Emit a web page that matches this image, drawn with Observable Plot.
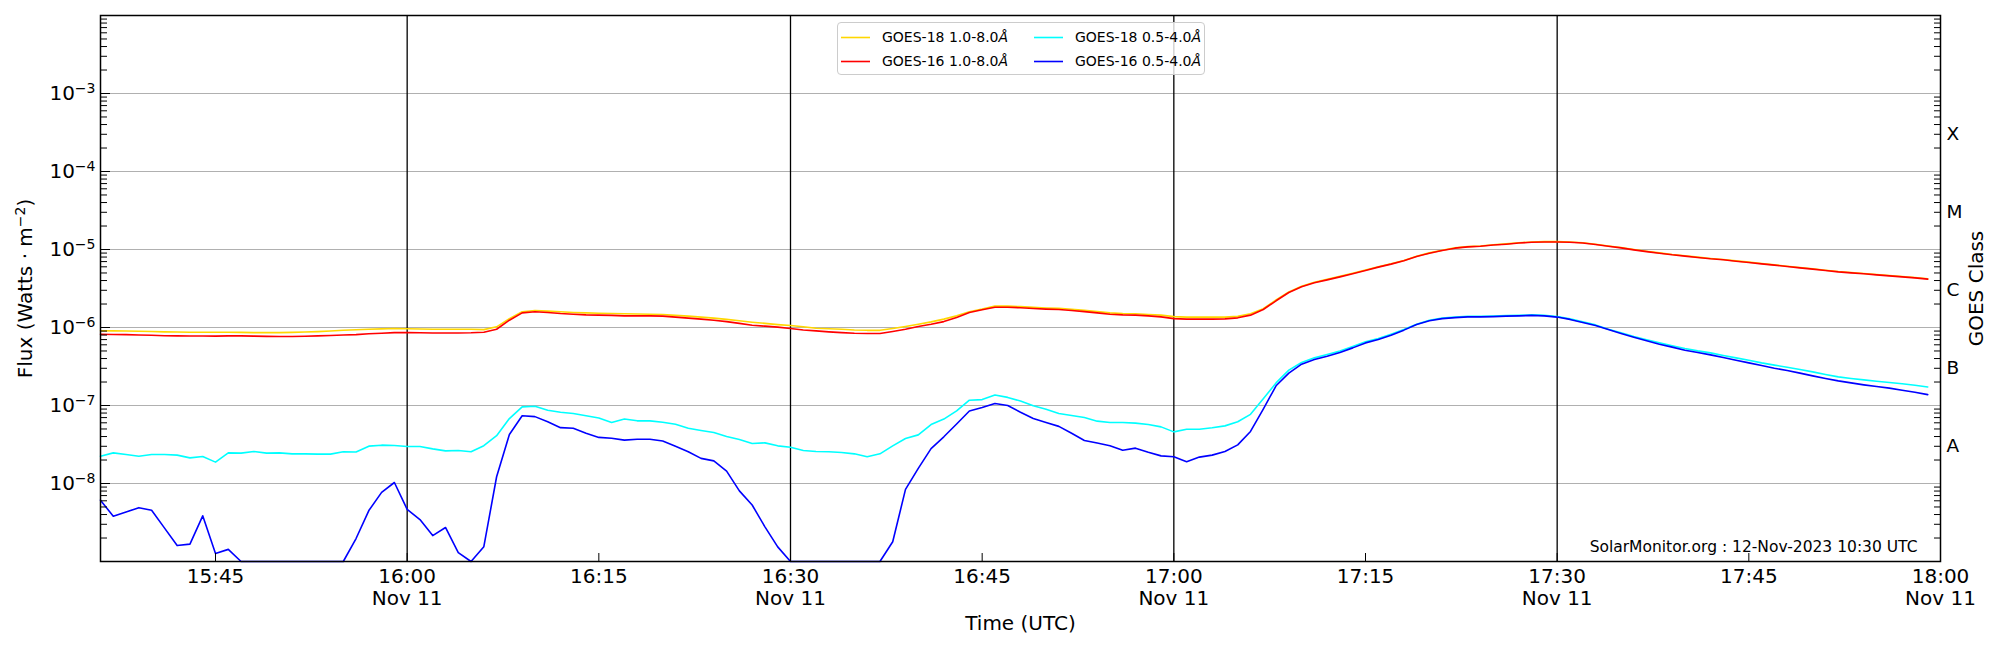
<!DOCTYPE html>
<html>
<head>
<meta charset="utf-8">
<script src="https://cdn.jsdelivr.net/npm/d3@7"></script>
<script src="https://cdn.jsdelivr.net/npm/@observablehq/plot@0.6"></script>
<style>
  body { margin: 0; background: #fff; font-family: "DejaVu Sans", sans-serif; }
  #wrap { position: relative; width: 2000px; height: 650px; }
  #legend { position: absolute; left: 837px; top: 22px; width: 368px; height: 53px; box-sizing: border-box;
            border: 1px solid #cccccc; border-radius: 4px; background: rgba(255,255,255,0.8); }
  #legend svg { overflow: visible; }
</style>
</head>
<body>
<div id="wrap"><div id="legend"></div></div>
<script>
// ---- Data: GOES X-ray flux, 1-minute cadence starting 2023-11-11 15:36 UTC ----
const startTime = "2023-11-11T15:36:00Z";

const g18Long = [ // GOES-18 1.0-8.0 Å
  9.1e-7, 9.05e-7, 9.0e-7, 8.95e-7, 8.9e-7, 8.8e-7, 8.75e-7, 8.7e-7, 8.7e-7, 8.7e-7,
  8.7e-7, 8.65e-7, 8.6e-7, 8.6e-7, 8.6e-7, 8.65e-7, 8.75e-7, 8.85e-7, 9.0e-7, 9.2e-7,
  9.35e-7, 9.5e-7, 9.6e-7, 9.7e-7, 9.65e-7, 9.55e-7, 9.5e-7, 9.5e-7, 9.5e-7, 9.5e-7,
  9.4e-7, 1.02e-6, 1.30e-6, 1.59e-6, 1.65e-6, 1.62e-6, 1.59e-6, 1.56e-6, 1.54e-6, 1.52e-6,
  1.51e-6, 1.50e-6, 1.49e-6, 1.48e-6, 1.47e-6, 1.43e-6, 1.40e-6, 1.36e-6, 1.32e-6, 1.27e-6,
  1.22e-6, 1.17e-6, 1.13e-6, 1.09e-6, 1.06e-6, 1.02e-6, 9.8e-7, 9.65e-7, 9.5e-7, 9.3e-7,
  9.2e-7, 9.2e-7, 9.7e-7, 1.03e-6, 1.10e-6, 1.18e-6, 1.28e-6, 1.41e-6, 1.59e-6, 1.72e-6,
  1.88e-6, 1.88e-6, 1.85e-6, 1.81e-6, 1.78e-6, 1.76e-6, 1.71e-6, 1.66e-6, 1.60e-6, 1.54e-6,
  1.51e-6, 1.50e-6, 1.47e-6, 1.44e-6, 1.38e-6, 1.36e-6, 1.36e-6, 1.36e-6, 1.36e-6, 1.39e-6,
  1.50e-6, 1.74e-6, 2.25e-6, 2.86e-6, 3.38e-6, 3.8e-6, 4.15e-6, 4.53e-6, 4.95e-6, 5.45e-6,
  6.0e-6, 6.55e-6, 7.22e-6, 8.2e-6, 9.05e-6, 9.8e-6, 1.05e-5, 1.09e-5, 1.11e-5, 1.15e-5,
  1.18e-5, 1.22e-5, 1.25e-5, 1.26e-5, 1.26e-5, 1.25e-5, 1.22e-5, 1.17e-5, 1.11e-5, 1.06e-5,
  1.0e-5, 9.5e-6, 9.05e-6, 8.62e-6, 8.3e-6, 7.98e-6, 7.68e-6, 7.45e-6, 7.15e-6, 6.88e-6,
  6.62e-6, 6.36e-6, 6.11e-6, 5.88e-6, 5.66e-6, 5.43e-6, 5.22e-6, 5.07e-6, 4.93e-6, 4.78e-6,
  4.64e-6, 4.5e-6, 4.37e-6, 4.21e-6
];

const g16Long = [ // GOES-16 1.0-8.0 Å
  8.2e-7, 8.15e-7, 8.1e-7, 8.0e-7, 7.95e-7, 7.85e-7, 7.8e-7, 7.78e-7, 7.78e-7, 7.75e-7,
  7.8e-7, 7.8e-7, 7.75e-7, 7.7e-7, 7.68e-7, 7.68e-7, 7.72e-7, 7.8e-7, 7.9e-7, 8.0e-7,
  8.1e-7, 8.3e-7, 8.45e-7, 8.6e-7, 8.6e-7, 8.55e-7, 8.5e-7, 8.5e-7, 8.5e-7, 8.55e-7,
  8.7e-7, 9.5e-7, 1.24e-6, 1.54e-6, 1.59e-6, 1.56e-6, 1.51e-6, 1.48e-6, 1.45e-6, 1.44e-6,
  1.43e-6, 1.41e-6, 1.41e-6, 1.41e-6, 1.40e-6, 1.36e-6, 1.32e-6, 1.28e-6, 1.24e-6, 1.19e-6,
  1.13e-6, 1.07e-6, 1.04e-6, 1.01e-6, 9.7e-7, 9.3e-7, 9.06e-7, 8.8e-7, 8.6e-7, 8.45e-7,
  8.38e-7, 8.38e-7, 8.9e-7, 9.5e-7, 1.03e-6, 1.10e-6, 1.19e-6, 1.34e-6, 1.56e-6, 1.69e-6,
  1.82e-6, 1.82e-6, 1.79e-6, 1.75e-6, 1.72e-6, 1.70e-6, 1.65e-6, 1.60e-6, 1.54e-6, 1.48e-6,
  1.45e-6, 1.44e-6, 1.41e-6, 1.37e-6, 1.30e-6, 1.28e-6, 1.28e-6, 1.28e-6, 1.29e-6, 1.33e-6,
  1.44e-6, 1.70e-6, 2.20e-6, 2.81e-6, 3.32e-6, 3.74e-6, 4.08e-6, 4.46e-6, 4.88e-6, 5.38e-6,
  5.94e-6, 6.49e-6, 7.16e-6, 8.13e-6, 8.97e-6, 9.7e-6, 1.04e-5, 1.08e-5, 1.10e-5, 1.14e-5,
  1.17e-5, 1.21e-5, 1.24e-5, 1.25e-5, 1.25e-5, 1.24e-5, 1.21e-5, 1.16e-5, 1.10e-5, 1.05e-5,
  9.9e-6, 9.4e-6, 8.97e-6, 8.55e-6, 8.22e-6, 7.9e-6, 7.6e-6, 7.38e-6, 7.08e-6, 6.81e-6,
  6.55e-6, 6.3e-6, 6.05e-6, 5.82e-6, 5.6e-6, 5.38e-6, 5.17e-6, 5.02e-6, 4.88e-6, 4.73e-6,
  4.59e-6, 4.46e-6, 4.33e-6, 4.17e-6
];

const g18Short = [ // GOES-18 0.5-4.0 Å
  2.24e-8, 2.47e-8, 2.35e-8, 2.24e-8, 2.35e-8, 2.35e-8, 2.31e-8, 2.13e-8, 2.22e-8, 1.88e-8,
  2.47e-8, 2.45e-8, 2.57e-8, 2.45e-8, 2.47e-8, 2.4e-8, 2.4e-8, 2.38e-8, 2.38e-8, 2.55e-8,
  2.53e-8, 3.01e-8, 3.1e-8, 3.07e-8, 2.98e-8, 2.98e-8, 2.78e-8, 2.62e-8, 2.65e-8, 2.55e-8,
  3.05e-8, 4.1e-8, 6.8e-8, 9.6e-8, 9.8e-8, 8.7e-8, 8.2e-8, 7.9e-8, 7.4e-8, 6.9e-8,
  6.05e-8, 6.7e-8, 6.36e-8, 6.36e-8, 6.1e-8, 5.76e-8, 5.12e-8, 4.78e-8, 4.5e-8, 4.0e-8,
  3.67e-8, 3.26e-8, 3.32e-8, 3.04e-8, 2.92e-8, 2.65e-8, 2.57e-8, 2.55e-8, 2.5e-8, 2.4e-8,
  2.2e-8, 2.4e-8, 3.04e-8, 3.78e-8, 4.2e-8, 5.7e-8, 6.7e-8, 8.55e-8, 1.17e-7, 1.19e-7,
  1.36e-7, 1.27e-7, 1.14e-7, 9.9e-8, 8.97e-8, 7.9e-8, 7.45e-8, 7.0e-8, 6.3e-8, 6.05e-8,
  6.05e-8, 5.94e-8, 5.7e-8, 5.32e-8, 4.59e-8, 4.97e-8, 4.97e-8, 5.18e-8, 5.48e-8, 6.18e-8,
  7.7e-8, 1.22e-7, 1.95e-7, 2.84e-7, 3.56e-7, 4.08e-7, 4.5e-7, 4.98e-7, 5.71e-7, 6.55e-7,
  7.22e-7, 8.22e-7, 9.42e-7, 1.10e-6, 1.24e-6, 1.32e-6, 1.36e-6, 1.39e-6, 1.39e-6, 1.40e-6,
  1.42e-6, 1.43e-6, 1.45e-6, 1.43e-6, 1.38e-6, 1.29e-6, 1.18e-6, 1.08e-6, 9.5e-7, 8.55e-7,
  7.67e-7, 6.95e-7, 6.35e-7, 5.82e-7, 5.38e-7, 5.02e-7, 4.73e-7, 4.38e-7, 4.08e-7, 3.81e-7,
  3.52e-7, 3.29e-7, 3.1e-7, 2.89e-7, 2.7e-7, 2.5e-7, 2.33e-7, 2.22e-7, 2.13e-7, 2.05e-7,
  1.97e-7, 1.9e-7, 1.82e-7, 1.73e-7
];

const g16Short = [ // GOES-16 0.5-4.0 Å
  6.1e-9, 3.8e-9, 4.3e-9, 4.9e-9, 4.55e-9, 2.7e-9, 1.6e-9, 1.67e-9, 3.85e-9, 1.27e-9,
  1.43e-9, 1e-9, 1e-9, 1e-9, 1e-9, 1e-9, 1e-9, 1e-9, 1e-9, 1e-9,
  1.97e-9, 4.5e-9, 7.7e-9, 1.03e-8, 4.65e-9, 3.45e-9, 2.15e-9, 2.73e-9, 1.3e-9, 1.0e-9,
  1.55e-9, 1.22e-8, 4.25e-8, 7.4e-8, 7.2e-8, 6.2e-8, 5.2e-8, 5.1e-8, 4.4e-8, 3.9e-8,
  3.8e-8, 3.6e-8, 3.7e-8, 3.7e-8, 3.5e-8, 3.0e-8, 2.55e-8, 2.1e-8, 1.95e-8, 1.44e-8,
  8.05e-9, 5.3e-9, 2.78e-9, 1.54e-9, 1e-9, 1e-9, 1e-9, 1e-9, 1e-9, 1e-9,
  1e-9, 1e-9, 1.79e-9, 8.4e-9, 1.56e-8, 2.8e-8, 3.97e-8, 5.8e-8, 8.5e-8, 9.4e-8,
  1.06e-7, 1.0e-7, 8.2e-8, 6.8e-8, 6.05e-8, 5.4e-8, 4.4e-8, 3.56e-8, 3.3e-8, 3.04e-8,
  2.67e-8, 2.84e-8, 2.52e-8, 2.26e-8, 2.2e-8, 1.9e-8, 2.18e-8, 2.31e-8, 2.57e-8, 3.13e-8,
  4.65e-8, 9.0e-8, 1.79e-7, 2.6e-7, 3.39e-7, 3.89e-7, 4.29e-7, 4.78e-7, 5.48e-7, 6.35e-7,
  7.0e-7, 7.97e-7, 9.25e-7, 1.09e-6, 1.22e-6, 1.30e-6, 1.34e-6, 1.37e-6, 1.37e-6, 1.38e-6,
  1.40e-6, 1.41e-6, 1.43e-6, 1.41e-6, 1.36e-6, 1.27e-6, 1.16e-6, 1.06e-6, 9.4e-7, 8.4e-7,
  7.5e-7, 6.75e-7, 6.1e-7, 5.6e-7, 5.12e-7, 4.78e-7, 4.46e-7, 4.12e-7, 3.81e-7, 3.52e-7,
  3.26e-7, 3.01e-7, 2.81e-7, 2.6e-7, 2.4e-7, 2.22e-7, 2.07e-7, 1.95e-7, 1.84e-7, 1.75e-7,
  1.67e-7, 1.57e-7, 1.48e-7, 1.38e-7
];

const seriesNames  = ["GOES-18 1.0-8.0", "GOES-16 1.0-8.0", "GOES-18 0.5-4.0", "GOES-16 0.5-4.0"];
const seriesColors = ["#ffd700", "#ff0000", "#00ffff", "#0000ff"];
const seriesValues = [g18Long, g16Long, g18Short, g16Short];

const xDomain     = ["15:36", "18:00"];
const xTickTimes  = ["15:45", "16:00", "16:15", "16:30", "16:45", "17:00", "17:15", "17:30", "17:45", "18:00"];
const xTickDates  = ["", "Nov 11", "", "Nov 11", "", "Nov 11", "", "Nov 11", "", "Nov 11"];
const vlineTimes  = ["16:00", "16:30", "17:00", "17:30"];

const yDomain      = [1e-9, 1e-2];
const yMajor       = [1e-8, 1e-7, 1e-6, 1e-5, 1e-4, 1e-3];
const yMajorExp    = ["−8", "−7", "−6", "−5", "−4", "−3"];
const classTicks   = [3e-8, 3e-7, 3e-6, 3e-5, 3e-4];
const classLabels  = ["A", "B", "C", "M", "X"];

const yLabelMain = "Flux (Watts · m";
const yLabelExp  = "−2";
const xLabel = "Time (UTC)";
const rightLabel = "GOES Class";
const note = "SolarMonitor.org : 12-Nov-2023 10:30 UTC";

// ---- derived ----
const t0 = new Date(startTime);
const at = s => new Date(`2023-11-11T${s}:00Z`);
const timeOf = i => new Date(+t0 + i * 60000);
const yMinor = [];
for (let e = -9; e <= -3; e++) for (let k = 2; k <= 9; k++) yMinor.push(k * Math.pow(10, e));

const lineMarks = seriesValues.map((vals, s) =>
  Plot.line(vals, {x: (d, i) => timeOf(i), y: d => d, stroke: seriesColors[s], strokeWidth: 1.6})
);

const chart = Plot.plot({
  width: 2000,
  height: 650,
  marginLeft: 100,
  marginRight: 60,
  marginTop: 15,
  marginBottom: 89,
  style: {fontFamily: "DejaVu Sans", fontSize: "20px", background: "white", color: "black", overflow: "visible"},
  x: {type: "utc", domain: xDomain.map(at)},
  y: {type: "log", domain: yDomain},
  marks: [
    Plot.gridY(yMajor, {stroke: "#b0b0b0", strokeOpacity: 1, strokeWidth: 1.2}),
    Plot.ruleX(vlineTimes.map(at), {stroke: "black", strokeWidth: 1.3}),
    ...lineMarks,
    // ticks (inward) on left and right
    Plot.axisY(yMajor, {anchor: "left", tickSize: -10, fill: "none", label: null}),
    Plot.axisY(yMinor, {anchor: "left", tickSize: -7, fill: "none", label: null}),
    Plot.axisY(yMinor, {anchor: "right", tickSize: -7, fill: "none", label: null}),
    // left tick labels (10^n) and right GOES class letters
    Plot.text(yMajor, {y: d => d, frameAnchor: "left", dx: -5, textAnchor: "end", lineAnchor: "middle",
      fontSize: 20, text: (d, i) => "10" + yMajorExp[i], className: "ymaj"}),
    Plot.text(classTicks, {y: d => d, frameAnchor: "right", dx: 6, textAnchor: "start", lineAnchor: "middle",
      fontSize: 18.5, text: (d, i) => classLabels[i]}),
    // bottom axis
    Plot.axisX(xTickTimes.map(at), {anchor: "bottom", tickSize: -8, tickPadding: 14, lineHeight: 1.1, fontSize: 20, label: null,
      tickFormat: (d, i) => xTickDates[i] ? `${xTickTimes[i]}\n${xTickDates[i]}` : xTickTimes[i]}),
    Plot.frame({stroke: "black", strokeWidth: 1.5}),
    // labels
    Plot.text([yLabelMain + yLabelExp + ")"], {frameAnchor: "left", rotate: -90, dx: -75, textAnchor: "middle", lineAnchor: "middle", fontSize: 20, className: "ylabel"}),
    Plot.text([rightLabel], {frameAnchor: "right", rotate: -90, dx: 36, textAnchor: "middle", lineAnchor: "middle", fontSize: 20}),
    Plot.text([xLabel], {frameAnchor: "bottom", dy: 62, textAnchor: "middle", lineAnchor: "middle", fontSize: 20}),
    Plot.text([note], {frameAnchor: "bottom-right", dx: -23, dy: -10, textAnchor: "end", lineAnchor: "bottom", fontSize: 15.5})
  ]
});

const wrap = document.getElementById("wrap");
wrap.insertBefore(chart, wrap.firstChild);

// ---- mathtext-like superscripts ----
const svgSel = d3.select(chart);
const yTexts = svgSel.selectAll("text").filter(function () {
  return this.textContent.startsWith("10") && yMajorExp.some(e => this.textContent === "10" + e);
});
yTexts.each(function () {
  const el = d3.select(this);
  const exp = this.textContent.slice(2);
  el.text(null);
  el.append("tspan").text("10");
  el.append("tspan").attr("dy", -7).attr("font-size", 14).text(exp);
});
svgSel.selectAll("text").filter(function () { return this.textContent === yLabelMain + yLabelExp + ")"; })
  .each(function () {
    const el = d3.select(this);
    el.text(null);
    el.append("tspan").text(yLabelMain);
    el.append("tspan").attr("dy", -7).attr("font-size", 14).text(yLabelExp);
    el.append("tspan").attr("dy", 7).text(")");
  });

// ---- legend (inside the axes, like matplotlib's) ----
const lg = d3.select("#legend").append("svg").attr("width", 366).attr("height", 51)
  .style("font-family", "DejaVu Sans").style("font-size", "14px");
seriesNames.forEach((name, s) => {
  const col = s >= 2 ? 1 : 0, row = s % 2;
  const x0 = col ? 196 : 3, y0 = row ? 38.5 : 14.5;
  const g = lg.append("g").attr("transform", `translate(${x0},${y0})`);
  g.append("line").attr("x1", 0).attr("x2", 29).attr("y1", 0).attr("y2", 0)
    .attr("stroke", seriesColors[s]).attr("stroke-width", 1.6);
  const t = g.append("text").attr("x", 41).attr("y", 0).attr("dy", "0.35em").attr("fill", "black");
  t.append("tspan").text(name);
  t.append("tspan").attr("font-style", "italic").text("Å");
});
</script>
</body>
</html>
